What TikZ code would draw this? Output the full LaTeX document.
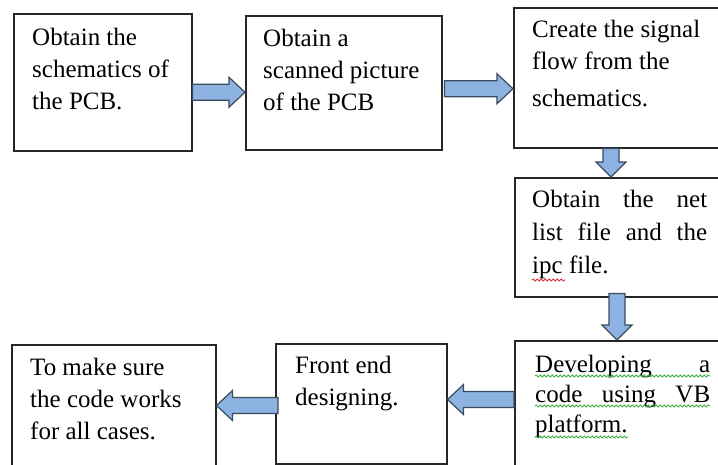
\documentclass[tikz,border=0pt]{standalone}
\usepackage{fontspec}
\setmainfont{Liberation Serif}
\usetikzlibrary{calc,decorations.pathmorphing}

\definecolor{arrowblue}{HTML}{8DB3E2}
\definecolor{arrowedge}{HTML}{3B4B5E}
\definecolor{spellred}{HTML}{E03030}
\definecolor{spellgreen}{HTML}{3CB043}

% block arrows from a tail point to the edge of the next box
\newcommand{\harrow}[2]{%
  \draw[blockarrow] let \p1=#1, \p2=#2, \n1={ifthenelse(\x2>\x1,\x2-16,\x2+16)} in
    (\x1,\y1+8) -- (\n1,\y1+8) -- (\n1,\y1+15) -- (\x2,\y1)
    -- (\n1,\y1-15) -- (\n1,\y1-8) -- (\x1,\y1-8) -- cycle;}
\newcommand{\varrow}[2]{%
  \draw[blockarrow] let \p1=#1, \p2=#2, \n1={ifthenelse(\y2>\y1,\y2-15,\y2+15)} in
    (\x1+8,\y1) -- (\x1+8,\n1) -- (\x1+15,\n1) -- (\x1,\y2)
    -- (\x1-15,\n1) -- (\x1-8,\n1) -- (\x1-8,\y1) -- cycle;}

\begin{document}
\begin{tikzpicture}[x=1pt,y=-1pt]
\tikzstyle{box} = [draw=black!85, line width=1.5pt, fill=white, anchor=north west, inner sep=0pt]
\tikzstyle{txt} = [anchor=north west, inner sep=0pt, align=left, font=\fontsize{25}{32}\selectfont]
\tikzstyle{jtxt} = [txt, text width=175pt, align=justify]
\tikzstyle{blockarrow} = [fill=arrowblue, draw=arrowedge, line width=1.2pt, line join=miter]
\tikzstyle{spell} = [line width=0.8pt, decorate, decoration={snake, amplitude=1.1pt, segment length=4pt}]

\useasboundingbox (0,0) rectangle (718,464);
\clip (0,0) rectangle (718,464);

\node[box, minimum width=178pt, minimum height=137pt] (schem) at (13,13) {};
\node[box, minimum width=196pt, minimum height=134pt] (scan) at (245,15) {};
\node[box, minimum width=220pt, minimum height=140pt] (flow) at (513,7) {};
\node[box, minimum width=220pt, minimum height=119pt] (netlist) at (514,177) {};
\node[box, minimum width=220pt, minimum height=150pt] (vbcode) at (514,340) {};
\node[box, minimum width=171pt, minimum height=120pt] (frontend) at (275,343) {};
\node[box, minimum width=204pt, minimum height=140pt] (check) at (11,344) {};

\node[txt] (schemtxt) at ([shift={(19,15)}]schem.north west) {Obtain the\\schematics of\\the PCB.};
\node[txt] (scantxt) at ([shift={(18,14)}]scan.north west) {Obtain a\\scanned picture\\of the PCB};
\node[txt] (flowtxt) at ([shift={(19,13)}]flow.north west) {Create the signal\\flow from the\\[5pt]schematics.};
\node[jtxt, font=\fontsize{25}{33}\selectfont] (netlisttxt) at ([shift={(18,13)}]netlist.north west)
  {Obtain the net\linebreak list file and the\linebreak ipc file.};
\node[jtxt, font=\fontsize{25}{30}\selectfont] (vbcodetxt) at ([shift={(21,15)}]vbcode.north west)
  {Developing a\linebreak code using VB\linebreak platform.};
\node[txt] (frontendtxt) at ([shift={(20,13)}]frontend.north west) {Front end\\designing.};
\node[txt] (checktxt) at ([shift={(19,14)}]check.north west) {To make sure\\the code works\\for all cases.};

% spell-check marks
\draw[spell, spellred] ([shift={(0,90)}]netlisttxt.north west) -- ++(33,0);
\draw[spell, spellgreen] ([shift={(0,21)}]vbcodetxt.north west) -- ++(175,0);
\draw[spell, spellgreen] ([shift={(0,51)}]vbcodetxt.north west) -- ++(175,0);
\draw[spell, spellgreen] ([shift={(0,82)}]vbcodetxt.north west) -- ++(93,0);

\harrow{([yshift=-10pt]schem.east)}{(scan.west)}
\harrow{([xshift=2pt,yshift=-6pt]scan.east)}{(flow.west)}
\varrow{([xshift=98pt]flow.south west)}{(netlist.north)}
\varrow{([xshift=103pt,yshift=4pt]netlist.south west)}{(vbcode.north)}
\harrow{([yshift=-59.5pt]vbcode.north west)}{(frontend.east)}
\harrow{([xshift=3pt,yshift=-62.5pt]frontend.north west)}{(check.east)}
\end{tikzpicture}
\end{document}
